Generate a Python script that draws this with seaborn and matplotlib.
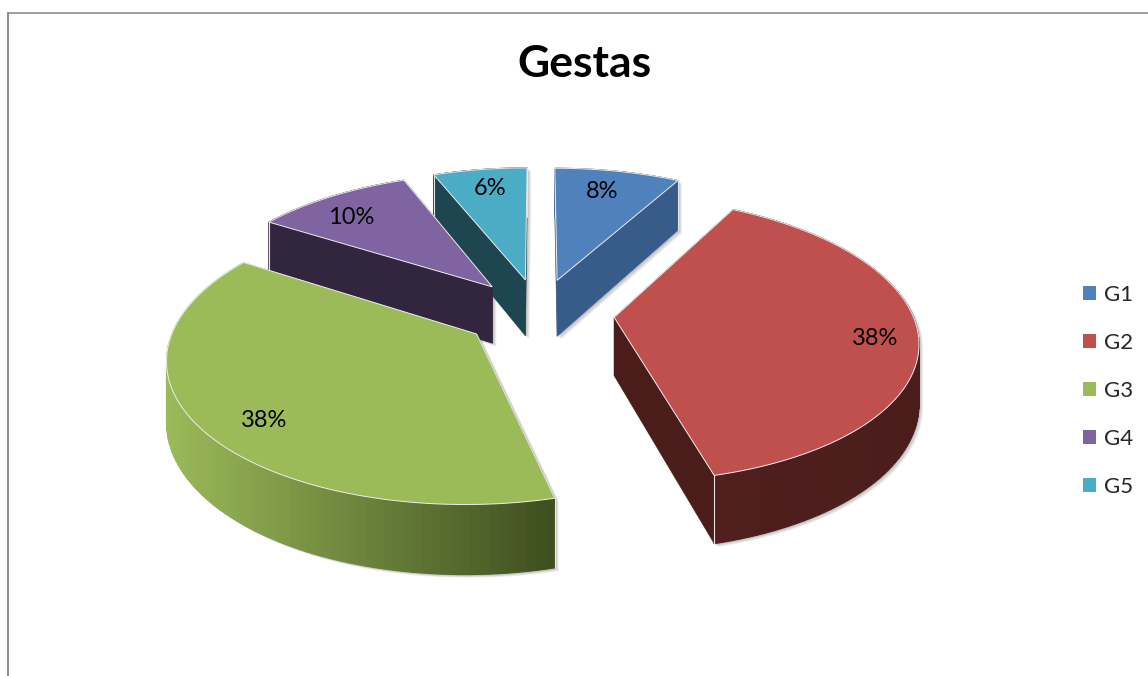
import numpy as np
import matplotlib
matplotlib.use("Agg")
import matplotlib.pyplot as plt
from matplotlib.patches import Patch
from matplotlib.lines import Line2D
import seaborn as sns

categories = ["G1", "G2", "G3", "G4", "G5"]
values = [8, 38, 38, 10, 6]
top_colors = ["#4F81BD", "#C0504D", "#9BBB59", "#8064A2", "#4BACC6"]
side_light = ["#375C89", "#501F1E", "#9BBB59", "#32263F", "#1D4650"]
side_dark = ["#375C89", "#4A1D1B", "#3F4F20", "#32263F", "#1D4650"]
label_radius = [0.79, 0.86, 0.83, 0.79, 0.81]
label_frac = [0.46, 0.52, 0.46, 0.40, 0.53]
draw_order = [4, 3, 0, 2, 1]

CX, CY, A, B, D, P, EXPLODE = 539, 313, 298, 138, 58, 0.15, 0.253

sns.set_theme(style="white")
plt.rcParams["font.family"] = ["Lato", "DejaVu Sans"]


def project(x, y, z=0.0):
    w = 1.0 / (1.0 + P * y)
    return CX + A * x * w, CY - B * y * w + D * z * w


def blend(c1, c2, t):
    a, b = np.array(matplotlib.colors.to_rgb(c1)), np.array(matplotlib.colors.to_rgb(c2))
    return tuple(a + (b - a) * t)


def hull(pts):
    pts = sorted(set(pts))
    def half(seq):
        out = []
        for p in seq:
            while len(out) > 1 and ((out[-1][0] - out[-2][0]) * (p[1] - out[-2][1])
                                    - (out[-1][1] - out[-2][1]) * (p[0] - out[-2][0])) <= 0:
                out.pop()
            out.append(p)
        return out[:-1]
    return half(pts) + half(pts[::-1])


fig = plt.figure(figsize=(11.48, 6.76), dpi=100)
ax = fig.add_axes([0, 0, 1, 1])
ax.set_xlim(0, 1148)
ax.set_ylim(676, 0)
ax.axis("off")

fracs = np.array(values) / np.sum(values)
edges = np.concatenate([[0], np.cumsum(fracs)]) * 2 * np.pi
PALETTE = sns.color_palette(top_colors)

for i in draw_order:
    z = 2 + draw_order.index(i)
    t0, t1 = edges[i], edges[i + 1]
    mid = (t0 + t1) / 2
    ox, oy = EXPLODE * np.sin(mid), EXPLODE * np.cos(mid)
    th = np.linspace(t0, t1, 90)
    xs, ys = ox + np.sin(th), oy + np.cos(th)

    X0, Y0 = project(xs, ys)
    X1, Y1 = project(xs, ys, 1)
    ax0, ay0 = project(ox, oy)
    ax1, ay1 = project(ox, oy, 1)

    # soft drop shadow on the background
    outline = hull(list(zip(X0, Y0)) + list(zip(X1, Y1)) + [(ax0, ay0), (ax1, ay1)])
    sx, sy = map(np.array, zip(*outline))
    for off in (1, 2, 3, 4):
        ax.fill(sx + off, sy + off * 0.8, color="black", alpha=0.07, lw=0, zorder=1)

    # radial side faces
    for t, n in ((t0, 0), (t1, -1)):
        p = [(ax0, ay0), (X0[n], Y0[n]), (X1[n], Y1[n]), (ax1, ay1)]
        ax.fill(*zip(*p), color=side_dark[i], lw=0.4, zorder=z)

    # outer curved wall
    lo, hi = X0.min(), X0.max()
    for k in range(len(th) - 1):
        c = blend(side_light[i], side_dark[i], (X0[k] - lo) / max(hi - lo, 1))
        ax.fill([X0[k], X0[k + 1], X1[k + 1], X1[k]], [Y0[k], Y0[k + 1], Y1[k + 1], Y1[k]],
                color=c, ec=c, lw=0.8, zorder=z)

    # light vertical edges at the ends of the wall
    for n in (0, -1):
        ax.plot([X0[n], X1[n]], [Y0[n], Y1[n]], color="#E4E4E4", lw=0.8, zorder=z)

    # top face
    tx, ty = project(np.r_[ox, xs], np.r_[oy, ys])
    ax.fill(tx, ty, color=PALETTE[i], ec="#EDEDED", lw=0.7, zorder=z)

    # percentage label
    la = t0 + label_frac[i] * (t1 - t0)
    lx, ly = project(ox + label_radius[i] * np.sin(la), oy + label_radius[i] * np.cos(la))
    ax.text(lx, ly, f"{values[i]}%", ha="center", va="center", fontsize=17, color="black", zorder=20)

ax.text(584, 64, "Gestas", ha="center", va="center", fontsize=32, fontweight="bold", color="black")

ax.add_line(Line2D([8, 8], [12.5, 676], color="#8C8C8C", lw=1.4))
ax.add_line(Line2D([8, 1148], [12.5, 12.5], color="#8C8C8C", lw=1.2))

handles = [Patch(facecolor=c, edgecolor="none") for c in PALETTE]
ax.legend(handles, categories, loc="center left", bbox_to_anchor=(1083 / 1148, 1 - 391 / 676),
          frameon=False, fontsize=16, handlelength=0.6, handleheight=0.6, handletextpad=0.36,
          labelspacing=1.255, borderpad=0, borderaxespad=0)

fig.savefig("out.png", dpi=100)
